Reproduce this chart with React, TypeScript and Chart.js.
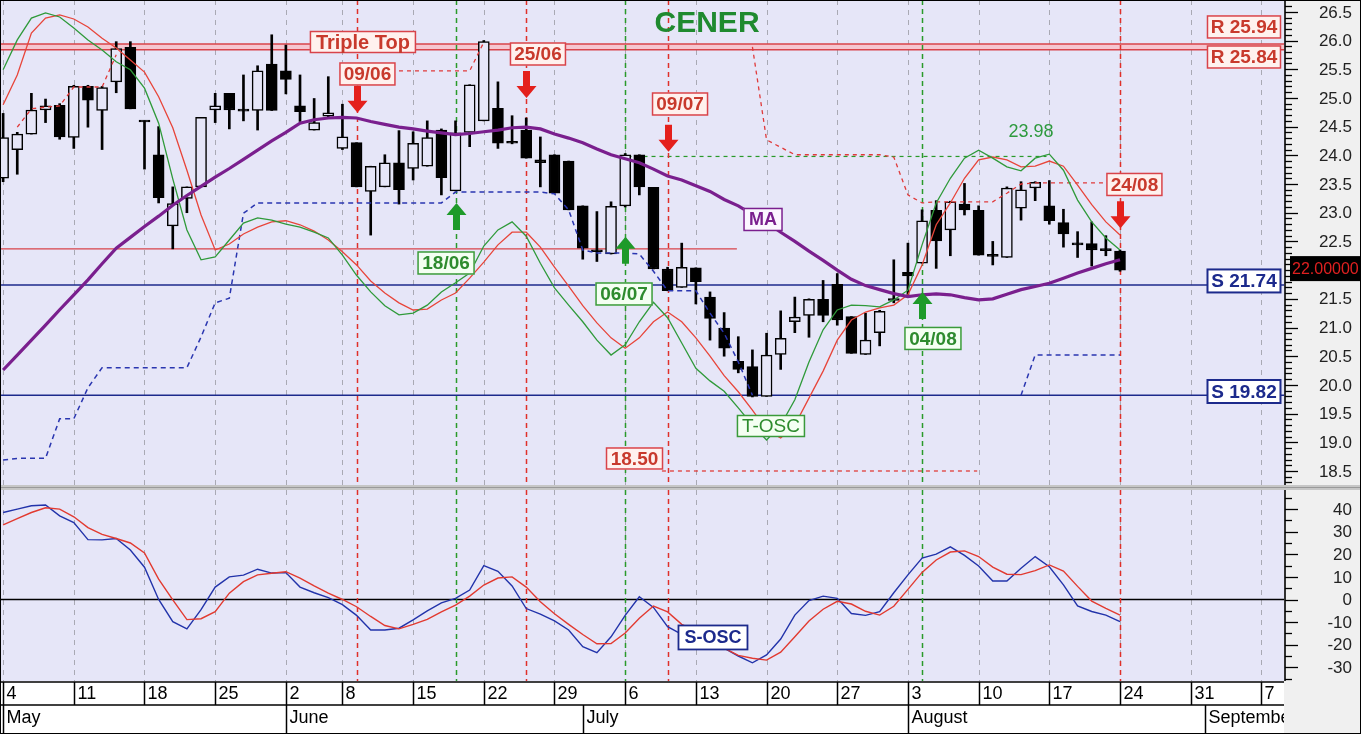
import React, { useEffect, useRef } from "react";
import { Chart, registerables } from "chart.js";

Chart.register(...registerables);

// ---------------- data ----------------
const weekTickIdx = [0, 5, 10, 15, 20, 24, 29, 34, 39, 44, 49, 54, 59, 64, 69, 74, 79, 84, 89];
const weekTickLabels = ["4", "11", "18", "25", "2", "8", "15", "22", "29", "6", "13", "20", "27", "3", "10", "17", "24", "31", "7"];
const monthStartIdx = [0, 20, 41, 64, 85];
const monthLabels = ["May", "June", "July", "August", "September"];

const priceTicks = [18.5, 19.0, 19.5, 20.0, 20.5, 21.0, 21.5, 22.0, 22.5, 23.0, 23.5, 24.0, 24.5, 25.0, 25.5, 26.0, 26.5];
const oscTicks = [-30, -20, -10, 0, 10, 20, 30, 40];

const openP = [23.60, 24.10, 24.37, 24.79, 24.87, 24.31, 25.20, 24.78, 25.28, 25.88,
  24.60, 24.01, 22.77, 23.25, 23.45, 24.79, 25.08, 24.78, 24.78, 25.59,
  25.47, 24.86, 24.44, 24.68, 24.12, 24.22, 23.37, 23.45, 23.87, 23.77,
  23.81, 24.44, 23.38, 24.40, 24.60, 24.82, 24.22, 24.44, 23.92, 24.01,
  23.90, 23.12, 22.33, 22.28, 23.12, 24.01, 23.44, 22.02, 21.70, 22.04,
  21.53, 20.99, 20.41, 20.32, 19.80, 20.53, 21.10, 21.21, 21.49, 21.75,
  21.19, 20.53, 20.91, 21.48, 21.96, 22.12, 23.04, 22.70, 23.15, 23.04,
  22.25, 22.22, 23.08, 23.43, 23.12, 22.83, 22.45, 22.46, 22.35, 22.33];
const highP = [24.73, 24.40, 25.08, 24.98, 24.90, 25.22, 25.22, 25.20, 25.98, 25.98,
  24.60, 24.50, 23.45, 23.45, 24.66, 25.08, 25.08, 25.40, 25.56, 26.10,
  25.92, 25.40, 24.99, 25.37, 24.89, 24.22, 23.81, 24.01, 24.43, 24.41,
  24.60, 24.46, 24.60, 25.23, 26.00, 25.28, 24.69, 24.65, 24.32, 24.01,
  23.90, 23.12, 23.02, 23.19, 24.03, 24.01, 23.44, 22.05, 22.47, 22.04,
  21.62, 21.26, 20.84, 20.61, 20.90, 21.29, 21.53, 21.50, 21.82, 21.94,
  21.19, 21.25, 21.30, 22.18, 22.47, 23.05, 23.21, 23.20, 23.51, 23.12,
  22.50, 23.45, 23.54, 23.54, 23.56, 23.06, 22.67, 22.84, 22.60, 22.35];
const lowP = [23.54, 23.67, 24.37, 24.57, 24.28, 24.12, 24.49, 24.10, 25.09, 24.81,
  23.76, 23.17, 22.37, 23.00, 23.45, 24.57, 24.46, 24.60, 24.44, 24.78,
  25.07, 24.59, 24.44, 24.66, 24.10, 23.45, 22.61, 23.45, 23.15, 23.57,
  23.81, 23.31, 23.38, 24.15, 24.60, 24.12, 24.20, 23.95, 23.45, 23.34,
  23.05, 22.19, 22.15, 22.28, 23.10, 23.31, 22.02, 21.64, 21.70, 21.41,
  20.78, 20.50, 20.21, 19.79, 19.80, 20.27, 20.91, 20.83, 21.10, 21.04,
  20.55, 20.53, 20.68, 21.43, 21.57, 22.12, 22.03, 22.25, 22.96, 22.26,
  22.09, 22.22, 22.87, 23.21, 22.80, 22.40, 22.22, 22.07, 22.25, 21.98];
const closeP = [24.31, 24.37, 24.79, 24.86, 24.32, 25.20, 24.96, 25.18, 25.86, 24.81,
  24.58, 23.26, 23.16, 23.45, 24.66, 24.86, 24.79, 24.77, 25.47, 24.78,
  25.32, 24.76, 24.57, 24.74, 24.32, 23.45, 23.81, 23.87, 23.40, 24.21,
  24.31, 23.61, 24.39, 25.23, 25.98, 24.21, 24.21, 23.95, 23.87, 23.34,
  23.05, 22.38, 22.32, 23.11, 24.01, 23.45, 22.02, 21.64, 22.05, 21.80,
  21.16, 20.64, 20.27, 19.80, 20.52, 20.81, 21.18, 21.49, 21.21, 21.13,
  20.55, 20.78, 21.28, 21.47, 21.90, 22.86, 22.51, 23.19, 23.05, 22.26,
  22.24, 23.43, 23.40, 23.53, 22.86, 22.63, 22.44, 22.35, 22.34, 22.00];

const maLine = [20.26, 20.52, 20.78, 21.04, 21.31, 21.57, 21.83, 22.11, 22.38, 22.57,
  22.76, 22.94, 23.13, 23.30, 23.46, 23.62, 23.77, 23.93, 24.09, 24.25,
  24.40, 24.56, 24.62, 24.65, 24.66, 24.65, 24.59, 24.54, 24.49, 24.46,
  24.42, 24.39, 24.36, 24.38, 24.41, 24.44, 24.48, 24.49, 24.46, 24.37,
  24.30, 24.22, 24.11, 24.01, 23.94, 23.87, 23.76, 23.64, 23.57, 23.47,
  23.37, 23.23, 23.12, 22.97, 22.83, 22.66, 22.50, 22.33, 22.17, 22.00,
  21.84, 21.73, 21.66, 21.59, 21.54, 21.57, 21.585, 21.57, 21.52, 21.48,
  21.50, 21.58, 21.66, 21.715, 21.77, 21.86, 21.95, 22.03, 22.11, 22.18];

const tOscFast = [25.49, 26.01, 26.39, 26.48, 26.41, 26.22, 26.01, 25.835, 25.63, 25.49,
  25.17, 24.56, 23.59, 22.70, 22.18, 22.23, 22.525, 22.82, 22.91, 22.87,
  22.80, 22.75, 22.66, 22.56, 22.26, 21.91, 21.62, 21.38, 21.22, 21.25,
  21.39, 21.62, 21.78, 21.95, 22.42, 22.70, 22.84, 22.59, 22.12, 21.69,
  21.39, 21.10, 20.78, 20.52, 20.70, 21.10, 21.44, 21.17, 20.73, 20.29,
  20.07, 19.89, 19.60, 19.30, 19.04, 19.30, 19.74, 20.40, 20.96, 21.305,
  21.39, 21.38, 21.36, 21.48, 21.65, 22.44, 23.17, 23.60, 23.95, 24.09,
  23.95, 23.80, 23.73, 23.95, 24.02, 23.74, 23.22, 22.84, 22.56, 22.35];
const tOscSlow = [24.88, 25.40, 26.13, 26.39, 26.445, 26.375, 26.236, 26.04, 25.87, 25.66,
  25.45, 25.02, 24.48, 23.74, 22.96, 22.35, 22.455, 22.63, 22.75, 22.84,
  22.86, 22.79, 22.68, 22.525, 22.32, 22.09, 21.81, 21.60, 21.43, 21.305,
  21.32, 21.48, 21.60, 21.86, 22.14, 22.44, 22.66, 22.66, 22.40, 22.05,
  21.72, 21.38, 21.08, 20.82, 20.64, 20.82, 21.10, 21.27, 21.10, 20.82,
  20.50, 20.16, 19.88, 19.56, 19.215, 19.075, 19.30, 19.77, 20.24, 20.78,
  21.13, 21.27, 21.34, 21.39, 21.57, 22.09, 22.79, 23.17, 23.60, 23.92,
  23.97, 23.92, 23.80, 23.81, 23.90, 23.81, 23.48, 23.14, 22.84, 22.61];

const supportTrail = [18.69, 18.72, 18.72, 18.72, 19.41, 19.41, 19.95, 20.30, 20.30, 20.30,
  20.30, 20.30, 20.30, 20.30, 20.835, 21.43, 21.51, 22.99, 23.17, 23.17,
  23.17, 23.17, 23.17, 23.17, 23.17, 23.17, 23.17, 23.17, 23.17, 23.17,
  23.17, 23.17, 23.36, 23.36, 23.36, 23.36, 23.36, 23.36, 23.36, 23.33,
  23.05, 22.35, 22.30, 22.30, 22.30, 22.28, 21.98, 21.64, 21.64, 21.64,
  21.25, 20.90, 20.40, 19.82, null, null, null, null, null, null,
  null, null, null, null, null, null, null, null, null, null,
  null, null, 19.82, 20.52, 20.52, 20.52, 20.52, 20.52, 20.52, 20.52];
const resistTrail = [null, 24.49, 24.81, 24.84, 24.86, 25.19, 25.19, 25.19, 25.75, null,
  null, null, null, null, null, null, null, null, null, null,
  null, null, null, null, null, null, null, null, 25.47, 25.47,
  25.47, 25.47, 25.47, 25.47, 25.97, null, null, null, null, null,
  null, null, null, null, null, null, null, null, null, null,
  null, null, null, 25.89, 24.27, 24.14, 24.01, 24.01, 24.01, 24.01,
  24.01, 24.01, 24.01, 23.97, 23.31, 23.17, 23.19, 23.19, 23.19, 23.19,
  23.19, 23.34, 23.50, 23.52, 23.52, 23.52, 23.52, 23.52, 23.52, null];

const sOscFast = [38.5, 40.0, 41.5, 41.8, 37.0, 34.0, 26.5, 26.4, 27.0, 21.9,
  14.3, 0.0, -9.8, -13.0, -4.5, 5.5, 10.0, 10.8, 13.4, 11.7,
  11.9, 5.5, 3.0, 0.8, -2.3, -7.0, -13.5, -13.5, -12.7, -9.0,
  -5.0, -1.5, 0.5, 4.2, 15.0, 12.5, 6.0, -4.0, -6.5, -9.5,
  -13.5, -20.9, -23.5, -16.5, -7.0, 1.2, -3.5, -12.0, -15.4, -17.5,
  -19.6, -21.5, -25.0, -28.0, -24.5, -17.5, -6.9, -0.5, 1.5, 0.5,
  -6.2, -7.0, -5.4, 3.0, 10.9, 18.3, 20.1, 23.3, 19.5, 14.8,
  8.2, 8.2, 13.8, 19.0, 14.5, 6.5, -2.8, -5.3, -6.9, -9.8];
const sOscSlow = [33.0, 35.8, 38.5, 40.6, 40.0, 36.6, 31.8, 28.8, 27.0, 25.0,
  20.6, 9.0, -0.2, -8.9, -8.5, -5.4, 2.8, 7.9, 10.9, 11.6,
  12.3, 9.5, 6.0, 2.8, 0.0, -3.2, -7.5, -11.5, -13.0, -11.0,
  -8.8, -5.5, -2.5, 1.5, 6.4, 9.5, 10.0, 5.5, -1.0, -6.3,
  -11.0, -15.5, -19.6, -19.5, -14.8, -8.3, -2.9, -5.5, -11.0, -14.0,
  -18.0, -21.5, -24.7, -26.0, -26.8, -23.3, -16.5, -9.5, -4.3, -0.8,
  -2.0, -5.2, -6.9, -3.0, 4.5, 12.0, 17.5, 21.0, 21.5, 19.0,
  14.3, 11.2, 11.0, 12.8, 15.3, 12.6, 5.8, -0.7, -3.9, -6.9];

const resistanceLevels = [25.94, 25.84];
const supportLevels = [21.74, 19.82];
const necklineLevel = 22.37;
const necklineEndIdx = 51.9;
const lastPrice = 22.0;
const sellSignalIdx = [25, 37, 47, 79];
const sellSignalLabels = ["09/06", "25/06", "09/07", "24/08"];
const buySignalIdx = [32, 44, 65];
const buySignalLabels = ["18/06", "06/07", "04/08"];
const targetHigh = 23.98;
const targetHighSpan = [43.6, 73.8];
const targetLow = 18.5;
const targetLowSpan = [46.6, 68.9];

// ---------------- layout / style ----------------
const X_MIN = -0.15;
const X_MAX = 90.6;
const PRICE_MIN = 18.256;
const PRICE_MAX = 26.671;
const OSC_MIN = -36.06;
const OSC_MAX = 48.45;

const FONT = '"Liberation Sans", Arial, sans-serif';
const PLOT_BG = "#E6E6F8";
const AXIS_BG = "#F0F0F0";
const GRID = "#A9A9B4";
const SIG_RED = "#E0302A";
const SIG_GREEN = "#2A9A2A";
const NAVY = "#1C2A8C";
const LVL_RED = "#D8434A";

const sellLabelPos = [{ i: 25.77, v: 25.417 }, { i: 37.83, v: 25.765 }, { i: 47.88, v: 24.894 }, { i: 80.02, v: 23.492 }];
const sellArrowTip = [24.74, 25.0, 24.06, 22.73];
const buyLabelPos = [{ i: 31.33, v: 22.124 }, { i: 43.92, v: 21.584 }, { i: 65.77, v: 20.809 }];
const buyArrowTip = [23.17, 22.58, 21.62];

const redStyle = { fill: "#FFF1EE", stroke: LVL_RED, color: "#C8392C", font: `bold 19px ${FONT}`, lw: 1.5 };
const greenStyle = { fill: "#F4FFF2", stroke: "#3A9A3A", color: "#2E8B2E", font: `bold 19px ${FONT}`, lw: 1.5 };
const navyStyle = { fill: "#FFFFFF", stroke: NAVY, color: NAVY, font: `bold 19px ${FONT}`, lw: 2 };
const purpleStyle = { fill: "#FBF6FF", stroke: "#7A1F8E", color: "#7A1F8E", font: `bold 18px ${FONT}`, lw: 1.5 };

function labelBox(ctx: any, cx: number, cy: number, w: number, h: number, text: string, s: any) {
  ctx.save();
  ctx.fillStyle = s.fill;
  ctx.fillRect(cx - w / 2, cy - h / 2, w, h);
  ctx.lineWidth = s.lw;
  ctx.strokeStyle = s.stroke;
  ctx.strokeRect(cx - w / 2 + 0.5, cy - h / 2 + 0.5, w - 1, h - 1);
  ctx.font = s.font;
  ctx.fillStyle = s.color;
  ctx.textAlign = "center";
  ctx.textBaseline = "middle";
  ctx.fillText(text, cx, cy + 1);
  ctx.restore();
}

function arrow(ctx: any, x: number, tipY: number, dir: number, color: string) {
  const L = 27, H = 12, hw = 10, sw = 3.5;
  const baseY = tipY - dir * L;
  const headY = tipY - dir * H;
  ctx.save();
  ctx.fillStyle = color;
  ctx.beginPath();
  ctx.moveTo(x - sw, baseY);
  ctx.lineTo(x + sw, baseY);
  ctx.lineTo(x + sw, headY);
  ctx.lineTo(x + hw, headY);
  ctx.lineTo(x, tipY);
  ctx.lineTo(x - hw, headY);
  ctx.lineTo(x - sw, headY);
  ctx.closePath();
  ctx.fill();
  ctx.restore();
}

function vLine(ctx: any, x: number, y0: number, y1: number) {
  ctx.beginPath();
  ctx.moveTo(x, y0);
  ctx.lineTo(x, y1);
  ctx.stroke();
}
function hLine(ctx: any, y: number, x0: number, x1: number) {
  ctx.beginPath();
  ctx.moveTo(x0, y);
  ctx.lineTo(x1, y);
  ctx.stroke();
}

function drawSignals(ctx: any, xs: any, y0: number, y1: number) {
  ctx.save();
  ctx.setLineDash([5, 4]);
  ctx.lineWidth = 1.5;
  ctx.strokeStyle = SIG_RED;
  sellSignalIdx.forEach((i) => vLine(ctx, Math.round(xs.getPixelForValue(i)) + 0.5, y0, y1));
  ctx.strokeStyle = SIG_GREEN;
  buySignalIdx.forEach((i) => vLine(ctx, Math.round(xs.getPixelForValue(i)) + 0.5, y0, y1));
  ctx.restore();
}

function drawWeekGrid(ctx: any, xs: any, y0: number, y1: number) {
  ctx.save();
  ctx.strokeStyle = GRID;
  ctx.lineWidth = 1;
  ctx.setLineDash([5, 5]);
  weekTickIdx.forEach((i) => vLine(ctx, Math.round(xs.getPixelForValue(i)) + 0.5, y0, y1));
  ctx.restore();
}

const mainPlugin = {
  id: "mainDeco",
  beforeDraw(chart: any) {
    const { ctx, chartArea: a, width, height } = chart;
    ctx.save();
    ctx.fillStyle = AXIS_BG;
    ctx.fillRect(0, 0, width, height);
    ctx.fillStyle = PLOT_BG;
    ctx.fillRect(0, 0, a.right, a.bottom);
    ctx.fillStyle = "#C6C6C6";
    ctx.fillRect(0, a.bottom, width, height - a.bottom);
    ctx.restore();
  },
  beforeDatasetsDraw(chart: any) {
    const { ctx, chartArea: a } = chart;
    const xs = chart.scales.x;
    const ys = chart.scales.y;
    ctx.save();
    ctx.beginPath();
    ctx.rect(0, 0, a.right, a.bottom);
    ctx.clip();
    drawWeekGrid(ctx, xs, 0, a.bottom);
    const yR1 = ys.getPixelForValue(resistanceLevels[0]);
    const yR2 = ys.getPixelForValue(resistanceLevels[1]);
    ctx.fillStyle = "#F5C6D0";
    ctx.fillRect(0, yR1, a.right, yR2 - yR1);
    ctx.strokeStyle = LVL_RED;
    ctx.lineWidth = 1.5;
    hLine(ctx, yR1, 0, a.right);
    hLine(ctx, yR2, 0, a.right);
    ctx.strokeStyle = NAVY;
    ctx.lineWidth = 1.6;
    supportLevels.forEach((v) => hLine(ctx, ys.getPixelForValue(v), 0, a.right));
    ctx.strokeStyle = LVL_RED;
    ctx.lineWidth = 1.3;
    hLine(ctx, ys.getPixelForValue(necklineLevel), 0, xs.getPixelForValue(necklineEndIdx));
    ctx.setLineDash([4, 4]);
    ctx.lineWidth = 1.2;
    ctx.strokeStyle = SIG_GREEN;
    hLine(ctx, ys.getPixelForValue(targetHigh), xs.getPixelForValue(targetHighSpan[0]), xs.getPixelForValue(targetHighSpan[1]));
    ctx.strokeStyle = SIG_RED;
    hLine(ctx, ys.getPixelForValue(targetLow), xs.getPixelForValue(targetLowSpan[0]), xs.getPixelForValue(targetLowSpan[1]));
    ctx.restore();
    drawSignals(ctx, xs, 0, a.bottom);
  },
  afterDatasetsDraw(chart: any) {
    const { ctx } = chart;
    const xs = chart.scales.x;
    const ys = chart.scales.y;
    const P = (i: number) => xs.getPixelForValue(i);
    const Q = (v: number) => ys.getPixelForValue(v);
    ctx.save();
    ctx.font = `bold 30px ${FONT}`;
    ctx.fillStyle = "#1F8A2F";
    ctx.textAlign = "center";
    ctx.textBaseline = "middle";
    ctx.fillText("CENER", P(49.79), Q(26.314) + 1);
    ctx.font = `18px ${FONT}`;
    ctx.fillStyle = "#2E9A3E";
    ctx.fillText(targetHigh.toFixed(2), P(72.7), Q(24.406));
    ctx.restore();

    labelBox(ctx, P(25.45), Q(25.974), 106, 22, "Triple Top", { ...redStyle, font: `bold 20px ${FONT}` });
    sellSignalIdx.forEach((idx, k) => {
      arrow(ctx, Math.round(P(idx)) + 0.5, Q(sellArrowTip[k]), 1, "#E4201C");
      labelBox(ctx, P(sellLabelPos[k].i), Q(sellLabelPos[k].v), 56, 23, sellSignalLabels[k], redStyle);
    });
    buySignalIdx.forEach((idx, k) => {
      arrow(ctx, Math.round(P(idx)) + 0.5, Q(buyArrowTip[k]), -1, "#1E9A2A");
      labelBox(ctx, P(buyLabelPos[k].i), Q(buyLabelPos[k].v), 57, 23, buySignalLabels[k], greenStyle);
    });
    labelBox(ctx, P(54.31), Q(19.284), 68, 22, "T-OSC", { ...greenStyle, font: `19px ${FONT}` });
    labelBox(ctx, P(53.75), Q(22.882), 39, 23, "MA", purpleStyle);
    labelBox(ctx, P(44.66), Q(18.718), 57, 22, targetLow.toFixed(2), redStyle);
    labelBox(ctx, P(87.77), Q(26.236), 74, 23, "R " + resistanceLevels[0].toFixed(2), redStyle);
    labelBox(ctx, P(87.77), Q(25.713), 74, 23, "R " + resistanceLevels[1].toFixed(2), redStyle);
    labelBox(ctx, P(87.77), Q(21.811), 74, 24, "S " + supportLevels[0].toFixed(2), navyStyle);
    labelBox(ctx, P(87.77), Q(19.885), 74, 24, "S " + supportLevels[1].toFixed(2), navyStyle);
  },
  afterDraw(chart: any) {
    const { ctx, chartArea: a, width } = chart;
    const ys = chart.scales.y;
    ctx.save();
    ctx.strokeStyle = "#000";
    ctx.lineWidth = 1.6;
    vLine(ctx, a.right + 1, 0, a.bottom);
    ctx.lineWidth = 1.3;
    for (let k = Math.ceil(PRICE_MIN * 10); k <= Math.floor(PRICE_MAX * 10); k++) {
      const y = Math.round(ys.getPixelForValue(k / 10)) + 0.5;
      hLine(ctx, y, a.right + 1, a.right + 1 + (k % 5 === 0 ? 13 : 7));
    }
    ctx.fillStyle = "#222";
    ctx.font = `17px ${FONT}`;
    ctx.textAlign = "right";
    ctx.textBaseline = "middle";
    priceTicks.forEach((v) => ctx.fillText(v.toFixed(1), 1352, ys.getPixelForValue(v) + 1));
    const yl = ys.getPixelForValue(lastPrice) - 2;
    ctx.fillStyle = "#000";
    ctx.fillRect(a.right + 6, yl - 12, width - a.right - 6, 25);
    ctx.fillStyle = "#E02020";
    ctx.font = `16px ${FONT}`;
    ctx.textAlign = "left";
    ctx.fillText(lastPrice.toFixed(5), a.right + 8, yl + 1);
    ctx.restore();
  },
};

const oscPlugin = {
  id: "oscDeco",
  beforeDraw(chart: any) {
    const { ctx, chartArea: a, width, height } = chart;
    ctx.save();
    ctx.fillStyle = AXIS_BG;
    ctx.fillRect(0, 0, width, height);
    ctx.fillStyle = PLOT_BG;
    ctx.fillRect(0, a.top, a.right, a.bottom - a.top);
    ctx.fillStyle = "#C6C6C6";
    ctx.fillRect(0, 0, width, a.top);
    ctx.fillStyle = "#999";
    ctx.fillRect(0, 0, width, 1);
    ctx.fillStyle = "#FFFFFF";
    ctx.fillRect(0, a.bottom, a.right, height - a.bottom);
    ctx.restore();
  },
  beforeDatasetsDraw(chart: any) {
    const { ctx, chartArea: a } = chart;
    const xs = chart.scales.x;
    const ys = chart.scales.y;
    drawWeekGrid(ctx, xs, a.top, a.bottom);
    ctx.save();
    ctx.strokeStyle = "#000";
    ctx.lineWidth = 1.5;
    hLine(ctx, ys.getPixelForValue(0), 0, a.right);
    ctx.restore();
    drawSignals(ctx, xs, a.top, a.bottom);
  },
  afterDatasetsDraw(chart: any) {
    const { ctx } = chart;
    const xs = chart.scales.x;
    const ys = chart.scales.y;
    labelBox(ctx, xs.getPixelForValue(50.21), ys.getPixelForValue(-16.8), 70, 25, "S-OSC", { ...navyStyle, font: `bold 18px ${FONT}`, lw: 1.8 });
  },
  afterDraw(chart: any) {
    const { ctx, chartArea: a, height } = chart;
    const xs = chart.scales.x;
    const ys = chart.scales.y;
    ctx.save();
    ctx.strokeStyle = "#000";
    ctx.lineWidth = 1.6;
    vLine(ctx, a.right + 1, a.top, a.bottom);
    ctx.lineWidth = 1.3;
    for (let v = -35; v <= 45; v += 5) {
      const y = Math.round(ys.getPixelForValue(v)) + 0.5;
      hLine(ctx, y, a.right + 1, a.right + 1 + (v % 10 === 0 ? 13 : 7));
    }
    ctx.fillStyle = "#222";
    ctx.font = `17px ${FONT}`;
    ctx.textAlign = "right";
    ctx.textBaseline = "middle";
    oscTicks.forEach((v) => ctx.fillText(String(v), 1352, ys.getPixelForValue(v) + 1));

    const r1 = a.bottom + 1;
    const r2 = a.bottom + 24;
    const r3 = height;
    ctx.beginPath();
    ctx.rect(0, a.bottom, a.right, height - a.bottom);
    ctx.clip();
    ctx.strokeStyle = "#000";
    ctx.lineWidth = 1.5;
    hLine(ctx, r1, 0, a.right);
    hLine(ctx, r2, 0, a.right);
    ctx.fillStyle = "#000";
    ctx.font = `18px ${FONT}`;
    ctx.textAlign = "left";
    ctx.textBaseline = "middle";
    weekTickIdx.forEach((i, k) => {
      const x = Math.round(xs.getPixelForValue(i)) + 0.5;
      vLine(ctx, x, r1, r2);
      ctx.fillText(weekTickLabels[k], x + 3, (r1 + r2) / 2 + 1);
    });
    monthStartIdx.forEach((i, k) => {
      const x = Math.round(xs.getPixelForValue(i)) + 0.5;
      vLine(ctx, x, r2, r3);
      ctx.fillText(monthLabels[k], x + 3, r2 + 13);
    });
    ctx.restore();
  },
};

const idx = closeP.map((_, i) => i);
const pts = (arr: (number | null)[]) => arr.map((v, i) => ({ x: i, y: v }));
const lineDs = (data: (number | null)[], color: string, width: number, dash: number[] = []) => ({
  type: "line" as const,
  data: pts(data),
  borderColor: color,
  borderWidth: width,
  borderDash: dash,
  pointRadius: 0,
  tension: 0,
  spanGaps: false,
  order: 0,
});

export default function App() {
  const mainRef = useRef<HTMLCanvasElement>(null);
  const oscRef = useRef<HTMLCanvasElement>(null);

  useEffect(() => {
    document.body.style.margin = "0";
    const xScale = { type: "linear", min: X_MIN, max: X_MAX, display: false, offset: false, grid: { display: false } };
    const main = new Chart(mainRef.current as HTMLCanvasElement, {
      type: "bar",
      data: {
        datasets: [
          lineDs(maLine, "#7A1F8E", 3.2),
          lineDs(tOscFast, "#2F9A3A", 1.3),
          lineDs(tOscSlow, "#E8453A", 1.3),
          lineDs(supportTrail, "#2A36B0", 1.5, [5, 4]),
          lineDs(resistTrail, "#E03A3A", 1.3, [4, 4]),
          {
            type: "bar",
            data: idx.map((i) => ({ x: i, y: [openP[i], closeP[i]] })),
            backgroundColor: idx.map((i) => (closeP[i] > openP[i] ? PLOT_BG : "#000")),
            borderColor: "#000",
            borderWidth: 1.5,
            borderSkipped: false,
            barThickness: 11,
            minBarLength: 2,
            grouped: false,
            order: 1,
          },
          {
            type: "bar",
            data: idx.map((i) => ({ x: i, y: [lowP[i], highP[i]] })),
            backgroundColor: "#000",
            borderWidth: 0,
            barThickness: 2,
            grouped: false,
            order: 2,
          },
        ] as any,
      },
      options: {
        animation: false,
        responsive: false,
        maintainAspectRatio: false,
        events: [],
        layout: { padding: { left: 1, right: 77, top: 2, bottom: 2 } },
        plugins: { legend: { display: false }, tooltip: { enabled: false } },
        scales: {
          x: xScale as any,
          y: { type: "linear", min: PRICE_MIN, max: PRICE_MAX, display: false, beginAtZero: false, grid: { display: false } },
        },
      },
      plugins: [mainPlugin],
    });
    const osc = new Chart(oscRef.current as HTMLCanvasElement, {
      type: "line",
      data: {
        datasets: [
          lineDs(sOscSlow, "#E23A30", 1.4),
          lineDs(sOscFast, "#2233AA", 1.4),
        ] as any,
      },
      options: {
        animation: false,
        responsive: false,
        maintainAspectRatio: false,
        events: [],
        layout: { padding: { left: 1, right: 77, top: 3, bottom: 53 } },
        plugins: { legend: { display: false }, tooltip: { enabled: false } },
        scales: {
          x: xScale as any,
          y: { type: "linear", min: OSC_MIN, max: OSC_MAX, display: false, grid: { display: false } },
        },
      },
      plugins: [oscPlugin],
    });
    return () => {
      main.destroy();
      osc.destroy();
    };
  }, []);

  return (
    <div style={{ position: "relative", width: 1361, height: 734, overflow: "hidden", background: AXIS_BG }}>
      <canvas ref={mainRef} width={1361} height={487} style={{ position: "absolute", left: 0, top: 0, width: 1361, height: 487 }} />
      <canvas ref={oscRef} width={1361} height={247} style={{ position: "absolute", left: 0, top: 487, width: 1361, height: 247 }} />
      <div style={{ position: "absolute", left: 0, top: 0, width: 1361, height: 734, border: "1px solid #000", boxSizing: "border-box", pointerEvents: "none" }} />
    </div>
  );
}
